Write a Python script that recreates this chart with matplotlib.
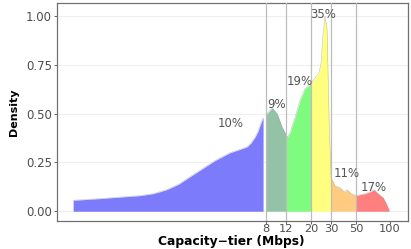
import numpy as np
import matplotlib
matplotlib.use("Agg")
from matplotlib import pyplot as plt

plt.rcParams["font.family"] = ["DejaVu Sans"]

# density curve (capacity in Mbps)
capacity = [0.157, 0.272, 0.614, 0.80, 0.92, 1.05, 1.20, 1.36, 1.53, 2.08, 2.83, 3.84, 4.6, 5.43, 5.89, 6.39, 6.79, 7.08, 7.52,
            8.16, 9.04, 10.0, 11.1, 12.3,
            13.0, 14.4, 16.0, 17.7, 18.8,
            20.8, 22.1, 23.5, 24.5, 25.5, 26.6, 27.7, 28.9,
            30.1, 32.6, 36.2, 39.2, 41.7, 45.2,
            50.1, 54.3, 60.1, 66.6, 72.2, 78.3, 86.7, 92.2, 98.0]
density = [0.056, 0.065, 0.08, 0.09, 0.10, 0.11, 0.125, 0.14, 0.16, 0.21, 0.26, 0.30, 0.315, 0.33, 0.35, 0.38, 0.41, 0.44, 0.48,
           0.50, 0.53, 0.50, 0.43, 0.38,
           0.40, 0.48, 0.57, 0.63, 0.64,
           0.67, 0.69, 0.71, 0.76, 0.91, 1.00, 0.93, 0.45,
           0.17, 0.13, 0.12, 0.10, 0.11, 0.09,
           0.08, 0.085, 0.09, 0.10, 0.11, 0.09, 0.07, 0.04, 0.005]

tier_edges = [0.1, 8, 12, 20, 30, 50, 100]
tier_colors = ["#7B7BFB", "#93C2A6", "#7FFB7F", "#FFFF7F", "#FFCB80", "#FF7F7F"]
tier_share = ["10%", "9%", "19%", "35%", "11%", "17%"]
label_x = [3.9, 9.8, 15.8, 25.5, 41, 71]
label_y = [0.45, 0.545, 0.665, 1.01, 0.195, 0.12]

x_ticks = [8, 12, 20, 30, 50, 100]
y_ticks = [0.0, 0.25, 0.5, 0.75, 1.0]

cap = np.array(capacity)
dens = np.array(density)

fig = plt.figure(figsize=(4.11, 2.49), dpi=100)
ax = fig.add_axes([57 / 411, 28 / 249, 351 / 411, 218 / 249])
ax.set_xscale("log")

for i, col in enumerate(tier_colors):
    lo, hi = tier_edges[i], tier_edges[i + 1]
    m = (cap >= lo) & (cap < hi)
    xs = list(cap[m])
    ys = list(dens[m])
    if i > 0:
        xs = [lo] + xs
        ys = [float(np.interp(np.log(lo), np.log(cap), dens))] + ys
    if i < len(tier_colors) - 1 and i > 0:
        xs = xs + [hi]
        ys = ys + [float(np.interp(np.log(hi), np.log(cap), dens))]
    ax.fill_between(xs, 0, ys, color=col, linewidth=0, zorder=2)
    ax.plot(xs, ys, color="#999999", lw=0.4, alpha=0.6, zorder=3)

for e in tier_edges[1:-1]:
    ax.axvline(e, color="#BDBDBD", lw=0.9, zorder=4)
for yt in y_ticks:
    ax.axhline(yt, color="#EFEFEF", lw=0.8, zorder=1)

for t, lx, ly in zip(tier_share, label_x, label_y):
    ax.text(lx, ly, t, ha="center", va="center", fontsize=8.5, color="#555555", zorder=5)

ax.set_xlim(0.113, 144)
ax.set_ylim(-0.05, 1.067)
ax.set_xticks(x_ticks)
ax.set_xticklabels([str(v) for v in x_ticks])
ax.xaxis.set_minor_locator(matplotlib.ticker.NullLocator())
ax.set_yticks(y_ticks)
ax.set_yticklabels(["%.2f" % v for v in y_ticks])
ax.tick_params(colors="#4D4D4D", labelsize=8.5, length=2.5, width=0.6, pad=1)
ax.tick_params(axis="x", labelsize=8.2, pad=0)
for s in ax.spines.values():
    s.set_color("#707070")
    s.set_linewidth(0.9)

fig.text(231 / 411, 1 - 244.5 / 249, "Capacity\u2212tier (Mbps)", fontsize=8.8,
         fontweight="bold", ha="center", va="baseline")
ax.set_ylabel("Density", fontsize=8, fontweight="bold", labelpad=5)

fig.savefig("out.png", dpi=100)
